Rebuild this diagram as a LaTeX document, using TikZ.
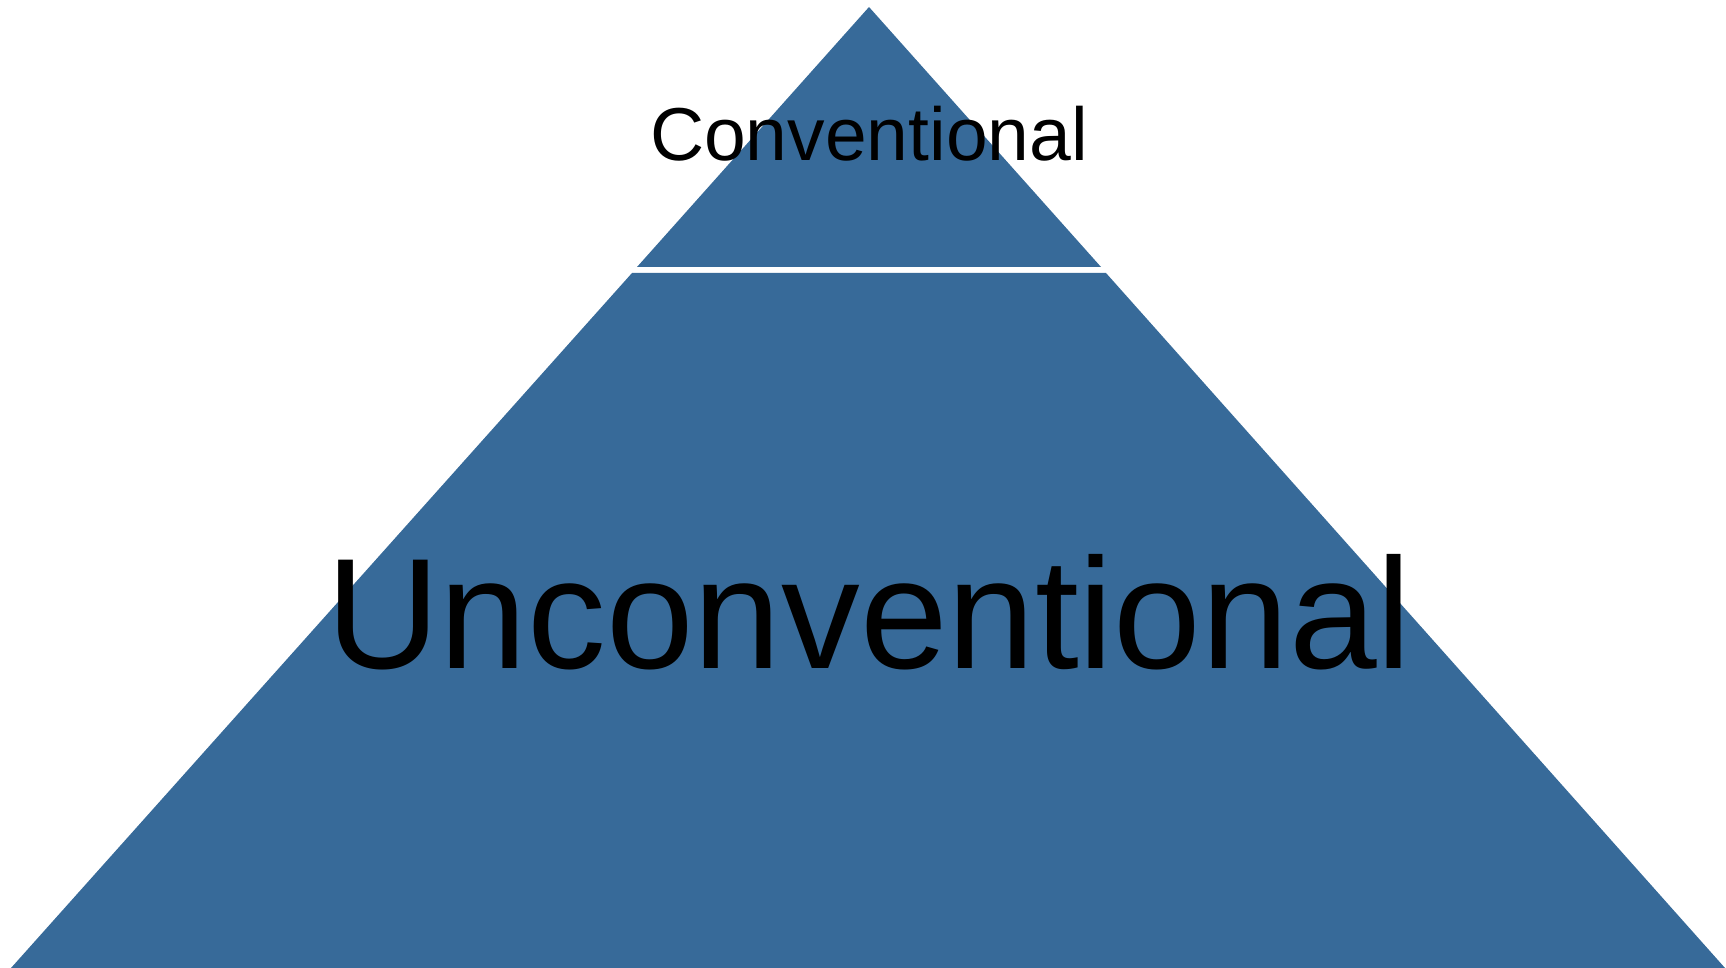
\documentclass[tikz,border=0pt]{standalone}
\usepackage{fontspec}
\setmainfont{Liberation Sans}
\definecolor{pyrblue}{RGB}{55,106,153}
\begin{document}
\begin{tikzpicture}[x=1pt,y=-1pt,every node/.style={inner sep=0pt,text=black,anchor=base}]
  \useasboundingbox (0,0) rectangle (1726,968);
  \fill[pyrblue] (869,7) -- (1101,267) -- (637,267) -- cycle;
  \fill[pyrblue] (632,273) -- (1106,273) -- (1725,968) -- (11,968) -- cycle;
  \node[font=\fontsize{75}{80}\selectfont] (conv) at (869,161) {Conventional};
  \node[font=\fontsize{157.5}{160}\selectfont] (unconv) at (869,668) {Unconventional};
\end{tikzpicture}
\end{document}
